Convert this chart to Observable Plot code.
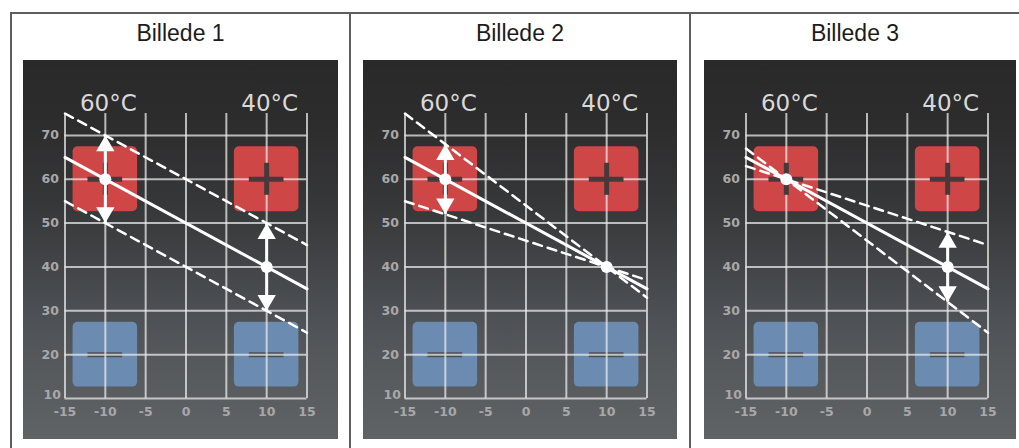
<!DOCTYPE html>
<html><head><meta charset="utf-8">
<script src="https://cdn.jsdelivr.net/npm/d3@7"></script>
<script src="https://cdn.jsdelivr.net/npm/@observablehq/plot@0.6"></script>
<style>
body{margin:0;background:#fff;width:1019px;height:448px;overflow:hidden;position:relative;font-family:"Liberation Sans",Arial,sans-serif}
.bar{position:absolute;background:#5e5e5e}
.title{position:absolute;top:20px;font-size:23px;color:#1c1c1c;text-align:center;line-height:normal;white-space:nowrap}
.panel{position:absolute;top:60px}
</style></head><body>
<script>
// ---- data ----
const panelTitles = ["Billede 1", "Billede 2", "Billede 3"];
const xTicks = [-15, -10, -5, 0, 5, 10, 15];
const yTicks = [10, 20, 30, 40, 50, 60, 70];
const tempX = [-10, 10];
const tempText = ["60°C", "40°C"];
const squareX = [-10, 10, -10, 10];
const squareY = [60, 60, 20, 20];
const squareSign = ["+", "+", "-", "-"];
const lineX = [-15, 15];
const fitY = [65, 35];
const pointX = [-10, 10];
const pointY = [60, 40];
const dashUpperY = [[75, 45], [75, 33], [63, 45]];
const dashLowerY = [[55, 25], [55, 37], [67, 25]];
const arrows1 = [{x: -10, lo: 50, hi: 70}, {x: 10, lo: 30, hi: 50}];
const arrows2 = [{x: -10, lo: 52, hi: 68}];
const arrows3 = [{x: 10, lo: 32, hi: 48}];
const arrowSets = [arrows1, arrows2, arrows3];

// ---- layout ----
const colEdges = [[12, 349], [351, 689], [691, 1019]];
const panelLeft = [23, 363, 704];
const panelWidth = [315, 314, 312];

function addBar(l, t, w, h) {
  const d = document.createElement("div");
  d.className = "bar";
  Object.assign(d.style, {left: l + "px", top: t + "px", width: w + "px", height: h + "px"});
  document.body.appendChild(d);
}
addBar(10, 12, 1009, 2);
addBar(10, 12, 2, 436);
addBar(349, 12, 2, 436);
addBar(689, 12, 2, 436);

const downTriangle = {
  draw(ctx, size) {
    const y = -Math.sqrt(size / (3 * Math.sqrt(3)));
    ctx.moveTo(0, -2 * y);
    ctx.lineTo(-Math.sqrt(3) * y, y);
    ctx.lineTo(Math.sqrt(3) * y, y);
    ctx.closePath();
  }
};

const idx = squareX.map((_, i) => i);
const plusIdx = idx.filter(i => squareSign[i] === "+");
const minusIdx = idx.filter(i => squareSign[i] === "-");
const labelFont = {fontFamily: "DejaVu Sans", fontWeight: "bold", fontSize: 12.5, fill: "#a8a8a8"};

panelTitles.forEach((t, p) => {
  const [a, b] = colEdges[p];
  const d = document.createElement("div");
  d.className = "title";
  d.style.left = a + "px";
  d.style.width = (b - a) + "px";
  d.textContent = t;
  document.body.appendChild(d);

  const W = panelWidth[p];
  const arrows = arrowSets[p];
  const chart = Plot.plot({
    width: W, height: 379,
    marginLeft: 41.5, marginRight: W - 283.5, marginTop: 53, marginBottom: 41,
    x: {domain: [-15, 15], axis: null},
    y: {domain: [10, 75], axis: null},
    style: {
      background: "linear-gradient(to bottom, #292929 0%, #2d2d2e 18%, #363738 38%, #434548 55%, #4d5155 68%, #56595c 80%, #606366 100%)",
      overflow: "visible"
    },
    marks: [
      Plot.rect(plusIdx, {x1: i => squareX[i] - 4, x2: i => squareX[i] + 4, y1: i => squareY[i] - 7.4, y2: i => squareY[i] + 7.4, fill: "#cf4647", rx: 5}),
      Plot.rect(minusIdx, {x1: i => squareX[i] - 4, x2: i => squareX[i] + 4, y1: i => squareY[i] - 7.4, y2: i => squareY[i] + 7.4, fill: "#6b8cb0", rx: 5}),
      Plot.ruleY(minusIdx, {y: i => squareY[i], x1: i => squareX[i] - 2.15, x2: i => squareX[i] + 2.15, stroke: "#4c4f55", strokeWidth: 5}),
      Plot.ruleX(xTicks, {x: d => d, y1: 10, y2: 75, stroke: "#e8e8e8", strokeOpacity: 0.75, strokeWidth: 2}),
      Plot.ruleY(yTicks, {y: d => d, x1: -15, x2: 15, stroke: "#e8e8e8", strokeOpacity: 0.75, strokeWidth: 2}),
      Plot.ruleY(plusIdx, {y: i => squareY[i], x1: i => squareX[i] - 2.15, x2: i => squareX[i] + 2.15, stroke: "#433a3a", strokeWidth: 5}),
      Plot.ruleX(plusIdx, {x: i => squareX[i], y1: i => squareY[i] - 3.65, y2: i => squareY[i] + 3.65, stroke: "#433a3a", strokeWidth: 5}),
      Plot.text(tempX, {x: d => d, y: 77.3, text: (d, i) => tempText[i], dx: 3, fill: "#d9d9d9", fontSize: 23, fontFamily: "DejaVu Sans"}),
      Plot.text(xTicks, {x: d => d, y: 10, dy: 13, text: d => String(d), ...labelFont}),
      Plot.text(yTicks.filter(v => v > 10), {x: -15, y: d => d, dx: -6, textAnchor: "end", text: d => String(d), ...labelFont}),
      Plot.text(yTicks.filter(v => v === 10), {x: -15, y: d => d, dx: -4, dy: -4, textAnchor: "end", text: d => String(d), ...labelFont}),
      Plot.line(lineX, {x: d => d, y: (d, i) => dashUpperY[p][i], stroke: "white", strokeWidth: 2.5, strokeDasharray: "9,6"}),
      Plot.line(lineX, {x: d => d, y: (d, i) => dashLowerY[p][i], stroke: "white", strokeWidth: 2.5, strokeDasharray: "9,6"}),
      Plot.line(lineX, {x: d => d, y: (d, i) => fitY[i], stroke: "white", strokeWidth: 3}),
      Plot.ruleX(arrows, {x: "x", y1: "lo", y2: "hi", stroke: "white", strokeWidth: 3}),
      Plot.dot(arrows, {x: "x", y: "hi", symbol: "triangle", r: 6.8, fill: "white", stroke: "none", dy: 10.6}),
      Plot.dot(arrows, {x: "x", y: "lo", symbol: downTriangle, r: 6.8, fill: "white", stroke: "none", dy: -10.6}),
      Plot.dot(pointX, {x: d => d, y: (d, i) => pointY[i], r: 6, fill: "white", stroke: "none"})
    ]
  });
  chart.classList.add("panel");
  chart.style.left = panelLeft[p] + "px";
  chart.style.top = "60px";
  chart.style.position = "absolute";
  document.body.appendChild(chart);
});
</script>
</body></html>
